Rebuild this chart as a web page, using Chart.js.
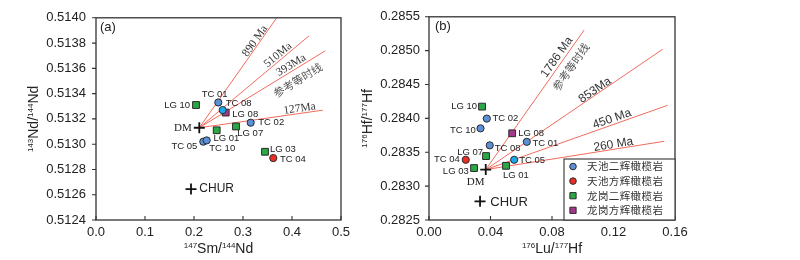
<!DOCTYPE html>
<html><head><meta charset="utf-8">
<script src="https://cdn.jsdelivr.net/npm/chart.js@4/dist/chart.umd.min.js"></script>
<style>
html,body{margin:0;padding:0;background:#fff;}
#wrap{position:relative;width:800px;height:260px;}
canvas{position:absolute;left:0;top:0;}
</style></head><body>
<div id="wrap"><canvas id="nd" width="800" height="260"></canvas><canvas id="hf" width="800" height="260"></canvas></div>
<script>
// ===== DATA: panel (a) 147Sm/144Nd vs 143Nd/144Nd =====
const ndTianchiLherz = [['TC 01',0.2496,0.51333],['TC 08',0.2586,0.51327],['TC 02',0.3157,0.51317],['TC 05',0.2190,0.51302],['TC 10',0.2259,0.51303]];
const ndTianchiHarz = [['TC 04',0.3618,0.51289]];
const ndLonggangLherz = [['LG 10',0.2041,0.51331],['LG 01',0.2463,0.51311],['LG 07',0.2857,0.51314],['LG 03',0.3449,0.51294]];
const ndLonggangHarz = [['LG 08',0.2647,0.51325]];
const ndDM = ['DM',0.2108,0.51313];
const ndCHUR = ['CHUR',0.1939,0.512645];
const ndIsoAges = ['890 Ma','510Ma','393Ma','127Ma'];
const ndIsoEnds = [[0.3688,0.5140],[0.4347,0.513857],[0.4680,0.513739],[0.4627,0.513269]];
const ndXTicks = [0,0.1,0.2,0.3,0.4,0.5];
const ndYTicks = [0.5124,0.5126,0.5128,0.5130,0.5132,0.5134,0.5136,0.5138,0.5140];

// ===== DATA: panel (b) 176Lu/177Hf vs 176Hf/177Hf =====
const hfTianchiLherz = [['TC 02',0.0376,0.283997],['TC 10',0.0335,0.283853],['TC 01',0.0636,0.283654],['TC 08',0.0395,0.283602],['TC 05',0.0554,0.283389]];
const hfTianchiHarz = [['TC 04',0.0239,0.283389]];
const hfLonggangLherz = [['LG 10',0.0345,0.284174],['LG 07',0.0371,0.283444],['LG 03',0.0293,0.283267],['LG 01',0.0501,0.283300]];
const hfLonggangHarz = [['LG 08',0.0541,0.283780]];
const hfDM = ['DM',0.0369,0.283244];
const hfCHUR = ['CHUR',0.0332,0.282775];
const hfIsoAges = ['1786 Ma','853Ma','450 Ma','260 Ma'];
const hfIsoEnds = [[0.1009,0.285305],[0.1520,0.285021],[0.1552,0.284193],[0.1530,0.283662]];
const hfXTicks = [0,0.04,0.08,0.12,0.16];
const hfYTicks = [0.2825,0.2830,0.2835,0.2840,0.2845,0.2850,0.2855];

const groupNames = ['天池二辉橄榄岩','天池方辉橄榄岩','龙岗二辉橄榄岩','龙岗方辉橄榄岩'];
const refIsochronText = '参考等时线';

// ===== STYLE =====
const SANS = '"Liberation Sans", Arial, sans-serif';
const SERIF = '"Liberation Serif", "Times New Roman", serif';
const CJK = '"Noto Sans CJK SC", sans-serif';
const LINE = '#f36b5c';
const CYAN = '#1ea7ec';
const groupStyle = [
  {color:'#5b8fd6', shape:'circle', r:3.6},
  {color:'#ee2d24', shape:'circle', r:3.6},
  {color:'#2aa845', shape:'rect', r:4.8},
  {color:'#a3388a', shape:'rect', r:4.8}
];
const ndLabelPos = {
 'TC 01':[-3.6,-8,'center'],'TC 08':[3,-6.7,'left'],'LG 08':[6.6,1.6,'left'],'LG 10':[-6,0,'right'],
 'DM':[-7.6,0.7,'right'],'LG 01':[-3.3,7.7,'left'],'LG 07':[1.3,6.7,'left'],'TC 02':[7.6,0,'left'],
 'TC 05':[-6,4.3,'right'],'TC 10':[2.6,8,'left'],'LG 03':[5,-2.6,'left'],'TC 04':[6.7,1.7,'left'],'CHUR':[8.3,0,'left']
};
const hfLabelPos = {
 'LG 10':[-5,0,'right'],'TC 02':[5.7,0,'left'],'TC 10':[-4.7,2,'right'],'LG 08':[6,0,'left'],
 'TC 01':[5.7,1.7,'left'],'TC 08':[5,3,'left'],'LG 07':[-3,-3.6,'right'],'TC 04':[-6,0,'right'],
 'TC 05':[5,0.7,'left'],'LG 03':[-5.3,3.3,'right'],'DM':[-10,12.3,'center'],'LG 01':[-3,10,'left'],'CHUR':[10.3,0.7,'left']
};
const ndAgePos = [[103,4.3],[107,5.2],[111,5.5],[102,4.8]];
const hfAgePos = [[133,6.5],[135,4.1],[136,5.6],[130,4.7]];

function txt(ctx, s, x, y, font, color, align, angle){
  ctx.save(); ctx.font = font; ctx.fillStyle = color; ctx.textAlign = align || 'left'; ctx.textBaseline = 'middle';
  ctx.translate(x, y); if (angle) ctx.rotate(angle); ctx.fillText(s, 0, 0); ctx.restore();
}
function supText(ctx, parts, cx, cy, angle){
  const big = '14px ' + SANS, small = '8px ' + SANS;
  ctx.save(); ctx.translate(cx, cy); ctx.rotate(angle); ctx.fillStyle = '#222'; ctx.textBaseline = 'alphabetic'; ctx.textAlign = 'left';
  let w = 0; parts.forEach(p => { ctx.font = p[1] ? small : big; w += ctx.measureText(p[0]).width; });
  let x = -w / 2; const base = 5;
  parts.forEach(p => { ctx.font = p[1] ? small : big; ctx.fillText(p[0], x, p[1] ? base - 5.5 : base); x += ctx.measureText(p[0]).width; });
  ctx.restore();
}
function marker(ctx, st, x, y, fill){
  ctx.save(); ctx.fillStyle = fill; ctx.strokeStyle = '#2b2b2b'; ctx.lineWidth = 1; ctx.beginPath();
  if (st.shape === 'circle') ctx.arc(x, y, st.r, 0, Math.PI * 2);
  else { const s = st.r * Math.SQRT1_2; ctx.rect(x - s, y - s, 2 * s, 2 * s); }
  ctx.fill(); ctx.stroke(); ctx.restore();
}

const annotate = {
  id: 'annotate',
  afterDatasetsDraw(chart, args, o){
    const ctx = chart.ctx, xs = chart.scales.x, ys = chart.scales.y, a = chart.chartArea;
    const P = (x, y) => [xs.getPixelForValue(x), ys.getPixelForValue(y)];
    // frame
    ctx.save(); ctx.strokeStyle = '#333'; ctx.lineWidth = 1.3;
    ctx.strokeRect(a.left, a.top, a.right - a.left, a.bottom - a.top);
    ctx.lineWidth = 1.1; ctx.beginPath();
    o.xTicks.forEach(v => { const p = xs.getPixelForValue(v); ctx.moveTo(p, a.bottom); ctx.lineTo(p, a.bottom - 4); });
    o.yTicks.forEach(v => { const p = ys.getPixelForValue(v); ctx.moveTo(a.left, p); ctx.lineTo(a.left - 4, p); });
    ctx.stroke(); ctx.restore();
    // point labels
    o.rows.forEach(r => {
      const pos = o.labelPos[r[0]]; if (!pos) return;
      const [px, py] = P(r[1], r[2]);
      let font = '9.5px ' + SANS;
      if (r[0] === 'DM') font = '11px ' + SERIF;
      if (r[0] === 'CHUR') font = o.churFont;
      txt(ctx, r[0], px + pos[0], py + pos[1], font, '#222', pos[2]);
    });
    // isochron labels
    const [dx, dy] = P(o.dm[1], o.dm[2]);
    const along = (i, d, perp) => {
      const [ex, ey] = P(o.ends[i][0], o.ends[i][1]);
      const L = Math.hypot(ex - dx, ey - dy), ux = (ex - dx) / L, uy = (ey - dy) / L;
      return [dx + ux * d + uy * perp, dy + uy * d - ux * perp, Math.atan2(ey - dy, ex - dx)];
    };
    o.ages.forEach((s, i) => {
      const [x, y, ang] = along(i, o.agePos[i][0], o.agePos[i][1]);
      txt(ctx, s, x, y, o.ageFont, '#333', 'center', ang);
    });
    const [rx, ry, rang] = along(o.refIdx, o.refPos[0], o.refPos[1]);
    txt(ctx, refIsochronText, rx, ry, '11px ' + CJK, '#555', 'center', rang);
    // panel tag
    txt(ctx, o.tag, a.left + o.tagPos[0], a.top + o.tagPos[1], '13px ' + SANS, '#222', 'left');
    // axis titles
    supText(ctx, o.yTitle, o.yTitleX, (a.top + a.bottom) / 2, -Math.PI / 2);
    supText(ctx, o.xTitle, (a.left + a.right) / 2, 248, 0);
    // legend
    if (o.legend) {
      const lx = a.right - 111, ly = a.bottom - 61;
      ctx.save(); ctx.fillStyle = '#fff'; ctx.strokeStyle = '#333'; ctx.lineWidth = 1.1;
      ctx.fillRect(lx, ly, a.right - lx, a.bottom - ly); ctx.strokeRect(lx, ly, a.right - lx, a.bottom - ly); ctx.restore();
      groupNames.forEach((g, i) => {
        const yy = ly + 7.5 + i * 14.6;
        const st = Object.assign({}, groupStyle[i], {r: groupStyle[i].shape === 'circle' ? 3.3 : 4.4});
        marker(ctx, st, lx + 9, yy, groupStyle[i].color);
        ctx.save(); ctx.letterSpacing = '0.4px';
        txt(ctx, g, lx + 23, yy, '10.5px ' + CJK, '#333', 'left');
        ctx.restore();
      });
    }
  }
};

function makeChart(id, c){
  const groups = [c.g0, c.g1, c.g2, c.g3];
  const ds = [];
  groups.forEach((rows, i) => {
    const st = groupStyle[i];
    ds.push({label: groupNames[i], data: rows.map(r => ({x: r[1], y: r[2]})),
      pointStyle: st.shape, pointRadius: st.r, pointHoverRadius: st.r,
      pointBackgroundColor: rows.map(r => c.cyan.includes(r[0]) ? CYAN : st.color),
      pointBorderColor: '#2b2b2b', pointBorderWidth: 1, showLine: false, order: 1});
  });
  ds.push({label: 'DM / CHUR', data: [c.dm, c.chur].map(r => ({x: r[1], y: r[2]})), pointStyle: 'cross',
    pointRadius: 5.5, pointBorderColor: '#111', pointBorderWidth: 1.8, showLine: false, order: 0});
  c.ends.forEach((e, i) => ds.push({label: c.ages[i], data: [{x: c.dm[1], y: c.dm[2]}, {x: e[0], y: e[1]}],
    showLine: true, pointRadius: 0, borderColor: LINE, borderWidth: 1, order: 5}));
  const rows = [].concat(c.g0, c.g1, c.g2, c.g3, [c.dm, c.chur]);
  return new Chart(document.getElementById(id), {
    type: 'scatter',
    data: {datasets: ds},
    options: {
      responsive: false, animation: false, devicePixelRatio: 1,
      layout: {autoPadding: false, padding: c.pad},
      plugins: {legend: {display: false}, tooltip: {enabled: false},
        annotate: {rows, labelPos: c.labelPos, dm: c.dm, ends: c.ends, ages: c.ages, agePos: c.agePos, ageFont: c.ageFont,
          refIdx: c.refIdx, refPos: c.refPos, tag: c.tag, tagPos: c.tagPos, yTitle: c.yTitle, xTitle: c.xTitle, yTitleX: c.yTitleX,
          xTicks: c.xTicks, yTicks: c.yTicks, churFont: c.churFont, legend: c.legend}},
      scales: {
        x: {type: 'linear', min: c.xTicks[0], max: c.xTicks[c.xTicks.length - 1], afterFit(s){ s.height = 40; },
          afterBuildTicks(s){ s.ticks = c.xTicks.map(v => ({value: v})); },
          grid: {display: false, drawTicks: false}, border: {display: false},
          ticks: {autoSkip: false, maxRotation: 0, padding: 5, color: '#222', font: {family: SANS, size: 13}, callback: v => v.toFixed(c.xDec)}},
        y: {type: 'linear', min: c.yTicks[0], max: c.yTicks[c.yTicks.length - 1], afterFit(s){ s.width = c.yWidth; },
          afterBuildTicks(s){ s.ticks = c.yTicks.map(v => ({value: v})); },
          grid: {display: false, drawTicks: false}, border: {display: false},
          ticks: {autoSkip: false, padding: c.yPad, color: '#222', font: {family: SANS, size: 13}, callback: v => v.toFixed(4)}}
      }
    },
    plugins: [annotate]
  });
}

makeChart('nd', {
  g0: ndTianchiLherz, g1: ndTianchiHarz, g2: ndLonggangLherz, g3: ndLonggangHarz, dm: ndDM, chur: ndCHUR,
  cyan: ['TC 08'], ends: ndIsoEnds, ages: ndIsoAges, agePos: ndAgePos, ageFont: '11.5px ' + SERIF,
  refIdx: 2, refPos: [109, -10.6], tag: '(a)', tagPos: [4, 10], labelPos: ndLabelPos, churFont: '12px ' + SANS,
  yTitle: [['143', 1], ['Nd/', 0], ['144', 1], ['Nd', 0]], xTitle: [['147', 1], ['Sm/', 0], ['144', 1], ['Nd', 0]], yTitleX: 33,
  xTicks: ndXTicks, yTicks: ndYTicks, xDec: 1, yWidth: 96, yPad: 10, pad: {left: 0, top: 7, right: 459, bottom: 0}, legend: false
});
makeChart('hf', {
  g0: hfTianchiLherz, g1: hfTianchiHarz, g2: hfLonggangLherz, g3: hfLonggangHarz, dm: hfDM, chur: hfCHUR,
  cyan: ['TC 05'], ends: hfIsoEnds, ages: hfIsoAges, agePos: hfAgePos, ageFont: '12px ' + SANS,
  refIdx: 0, refPos: [133, -10.4], tag: '(b)', tagPos: [6, 10], labelPos: hfLabelPos, churFont: '13px ' + SANS,
  yTitle: [['176', 1], ['Hf/', 0], ['177', 1], ['Hf', 0]], xTitle: [['176', 1], ['Lu/', 0], ['177', 1], ['Hf', 0]], yTitleX: 367,
  xTicks: hfXTicks, yTicks: hfYTicks, xDec: 2, yWidth: 429, yPad: 9, pad: {left: 0, top: 5, right: 125, bottom: 0}, legend: true
});
</script>
</body></html>
